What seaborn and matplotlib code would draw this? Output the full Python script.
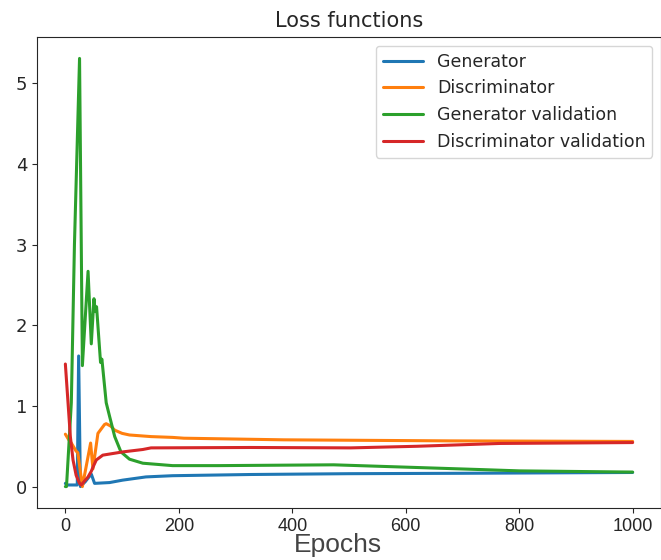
import matplotlib
matplotlib.use("Agg")
import matplotlib.pyplot as plt
import seaborn as sns
import pandas as pd

# Generator (training)
gen_epochs = [0, 2, 21, 23.4, 26.5, 35, 45.7, 51.5, 78, 101, 142, 189, 327, 500, 700, 1000]
gen_values = [0.04, 0.02, 0.02, 1.62, 0.0, 0.06, 0.155, 0.04, 0.05, 0.08, 0.12, 0.135, 0.15, 0.16, 0.165, 0.175]

# Discriminator (training)
disc_epochs = [0, 6, 10.5, 19, 22, 30, 44.5, 48.6, 57.4, 69, 72, 80, 87, 100, 113, 151, 189, 209, 385, 678, 1000]
disc_values = [0.65, 0.58, 0.54, 0.44, 0.42, 0.0, 0.54, 0.22, 0.66, 0.77, 0.78, 0.75, 0.70, 0.66, 0.64, 0.62, 0.61, 0.60, 0.58, 0.567, 0.56]

# Generator validation
gval_epochs = [0, 2, 10.5, 16, 25, 30, 40, 45.7, 50.4, 52.7, 55, 62, 64.4, 72, 78, 87, 98, 113, 136.5, 189,
               269, 473, 561, 649, 737, 800, 1000]
gval_values = [0.0, 0.0, 1.04, 3.0, 5.31, 1.5, 2.67, 1.77, 2.33, 2.17, 2.23, 1.54, 1.58, 1.04, 0.87, 0.62, 0.43, 0.34, 0.29, 0.26,
               0.26, 0.27, 0.25, 0.23, 0.21, 0.195, 0.18]

# Discriminator validation
dval_epochs = [0, 4.7, 8.8, 13.5, 19, 25, 28, 40, 45.7, 48.6, 54.5, 66, 101, 136.5, 151, 327, 503, 620, 766, 1000]
dval_values = [1.52, 1.04, 0.62, 0.33, 0.14, 0.04, 0.02, 0.12, 0.19, 0.24, 0.33, 0.39, 0.43, 0.46, 0.48, 0.485, 0.48, 0.50, 0.535, 0.546]

series = [
    ("Generator", gen_epochs, gen_values),
    ("Discriminator", disc_epochs, disc_values),
    ("Generator validation", gval_epochs, gval_values),
    ("Discriminator validation", dval_epochs, dval_values),
]
frames = [pd.DataFrame({"epoch": e, "loss": v, "series": n}) for n, e, v in series]
df = pd.concat(frames, ignore_index=True)

sns.set_style("ticks")
plt.rcParams['font.family'] = ['DejaVu Sans']

fig = plt.figure(figsize=(6.61, 5.60), dpi=100)
ax = fig.add_axes([37/661, 1 - 508/560, 1 - 37/661, (508 - 37)/560])
palette = ["#1f77b4", "#ff7f0e", "#2ca02c", "#d62728"]
sns.lineplot(data=df, x="epoch", y="loss", hue="series", palette=palette,
             linewidth=2.2, ax=ax, sort=False, estimator=None)

ax.set_title("Loss functions", fontsize=15, pad=7)
ax.set_xlabel("Epochs", fontsize=19, color="#444444", family=["Liberation Sans"], x=0.483)
ax.xaxis.labelpad = -1
ax.set_ylabel("")
ax.set_xticks([0, 200, 400, 600, 800, 1000])
ax.set_yticks([0, 1, 2, 3, 4, 5])
ax.tick_params(axis="both", labelsize=13)
for lbl in ax.get_xticklabels():
    lbl.set_family(["Liberation Sans Narrow", "Liberation Sans"])
ax.legend(loc="upper right", fontsize=12.5, handlelength=2.3)
fig.savefig("out.png", dpi=100)
